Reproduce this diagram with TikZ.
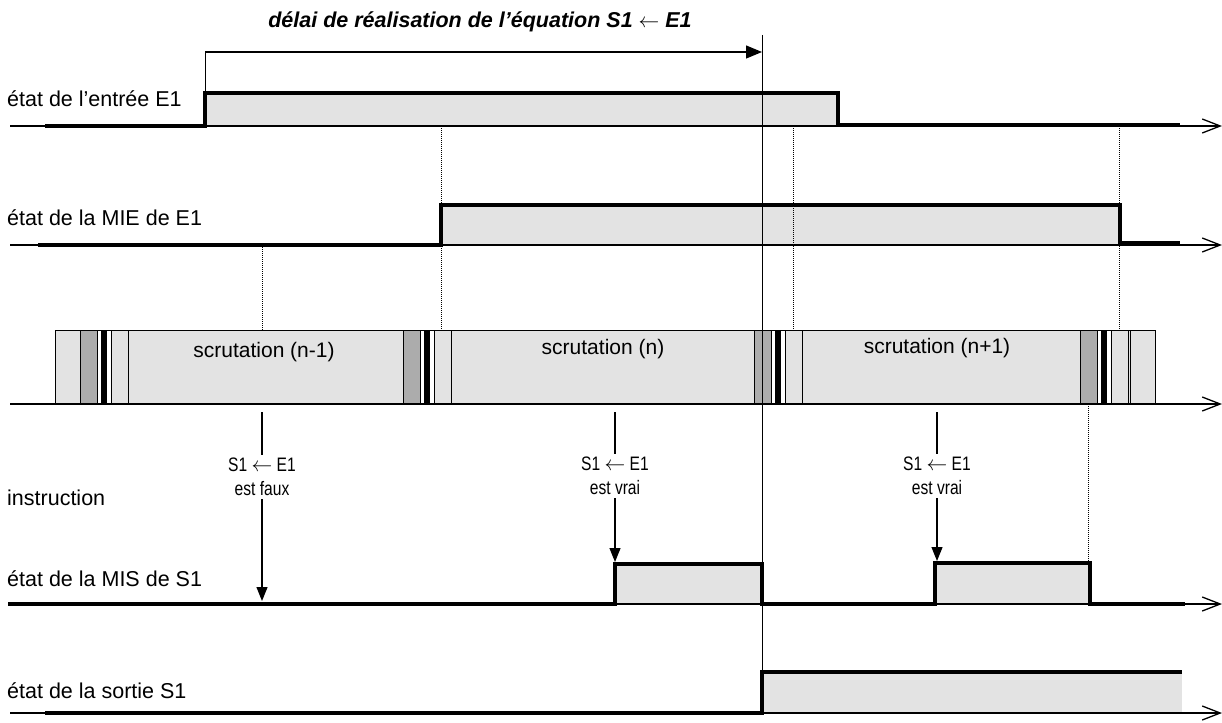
\documentclass[tikz,border=0pt]{standalone}
\usepackage{fontspec}
\setmainfont{Liberation Sans}
\newfontfamily\narrowfont[FakeStretch=0.8]{Liberation Sans}
\usetikzlibrary{arrows.meta}
\begin{document}
\begin{tikzpicture}[x=1pt,y=-1pt,
 every node/.style={font=\fontsize{21}{24}\selectfont, inner sep=0pt},
 axis/.style={line width=1.2pt, -{Straight Barb[length=18pt,width=14pt,line width=1.3pt]}},
 sig/.style={line width=4pt, line join=miter},
 shade/.style={fill=gray!22},
 dark/.style={fill=gray!65, line width=0.7pt},
 dots/.style={densely dotted, line width=1pt},
 lbl/.style={anchor=base west, font=\fontsize{21.5}{24}\selectfont},
 instr/.style={align=center, inner sep=3pt, font=\narrowfont\fontsize{19.5}{24}\selectfont},
 down/.style={line width=1.2pt, -{Triangle[length=14pt,width=11pt]}},
 delay/.style={line width=1.2pt, -{Triangle[length=16pt,width=13pt]}}
]
\useasboundingbox (0,0) rectangle (1222,722);

% ---------- title and delay arrow
\node[font=\fontsize{21.5}{24}\selectfont\bfseries\itshape, anchor=base] (title) at (480,28) {délai de réalisation de l’équation S1 $\leftarrow$ E1};
\coordinate (d0) at (205,52);
\coordinate (d1) at (762,52);
\coordinate (e1up) at (205,93);
\draw[delay] (d0) -- (d1);
\draw[line width=1pt] (d0) -- (e1up);

% ---------- labels
\node[lbl] (lE) at (7,107) {état de l’entrée E1};
\node[lbl] (lM) at (7,225) {état de la MIE de E1};
\node[lbl] (lI) at (7,505) {instruction};
\node[lbl] (lS) at (7,586) {état de la MIS de S1};
\node[lbl] (lO) at (7,698) {état de la sortie S1};

% ---------- E1
\fill[shade] (205,93) rectangle (838,126);
\draw[axis] (10,126) -- (1222,126);
\draw[sig] (45,126) -- (205,126) -- (205,93) -- (838,93) -- (838,125) -- (1180,125);

% ---------- MIE
\fill[shade] (441,205) rectangle (1120,245);
\draw[axis] (10,245) -- (1222,245);
\draw[sig] (38,245) -- (441,245) -- (441,205) -- (1120,205) -- (1120,243) -- (1180,243);

% ---------- scan bar
\filldraw[shade, line width=0.7pt] (55,330) rectangle (1155,404);
\foreach \p in {80,403,754,1080}{
  \filldraw[dark] (\p,330) rectangle (\p+17,404);
  \filldraw[fill=white, line width=0.7pt] (\p+17,330) rectangle (\p+31,404);
  \fill (\p+21,330) rectangle (\p+27,404);
  \filldraw[shade, line width=0.7pt] (\p+31,330) rectangle (\p+48,404);
}
\draw[line width=0.7pt] (1130,330) -- (1130,404);
\draw[axis] (10,404) -- (1222,404);
\node (sc1) at (264,352) {scrutation (n-1)};
\node (sc2) at (603,349) {scrutation (n)};
\node (sc3) at (937,348) {scrutation (n+1)};

% ---------- dotted guides
\draw[dots] (262,245) -- (262,330);
\draw[dots] (441,126) -- (441,330);
\draw[dots] (793,126) -- (793,330);
\draw[dots] (1119,126) -- (1119,330);
\draw[dots] (1088,404) -- (1088,563);

% ---------- MIS
\fill[shade] (615,564) rectangle (762,604);
\fill[shade] (935,563) rectangle (1090,604);
\draw[axis] (8,604) -- (1222,604);
\draw[sig] (8,604) -- (615,604) -- (615,564) -- (762,564) -- (762,604) -- (935,604) -- (935,563) -- (1090,563) -- (1090,604) -- (1185,604);

% ---------- sortie S1
\fill[shade] (762,672) rectangle (1182,713);
\draw[axis] (10,713) -- (1222,713);
\draw[sig] (45,713) -- (762,713) -- (762,672) -- (1182,672);

% ---------- instructions
\coordinate (t1) at (262,412);
\coordinate (t2) at (615,412);
\coordinate (t3) at (937,412);
\node[instr] (i1) at (262,477) {S1 $\leftarrow$ E1\\est faux};
\node[instr] (i2) at (615,476) {S1 $\leftarrow$ E1\\est vrai};
\node[instr] (i3) at (937,476) {S1 $\leftarrow$ E1\\est vrai};
\coordinate (a1) at (262,601);
\coordinate (a2) at (615,562);
\coordinate (a3) at (937,561);
\draw[line width=1.2pt] (t1) -- (i1);
\draw[line width=1.2pt] (t2) -- (i2);
\draw[line width=1.2pt] (t3) -- (i3);
\draw[down] (i1) -- (a1);
\draw[down] (i2) -- (a2);
\draw[down] (i3) -- (a3);

% ---------- delay end marker line
\coordinate (v0) at (762,35);
\coordinate (v1) at (762,713);
\draw[line width=0.9pt] (v0) -- (v1);
\end{tikzpicture}
\end{document}
